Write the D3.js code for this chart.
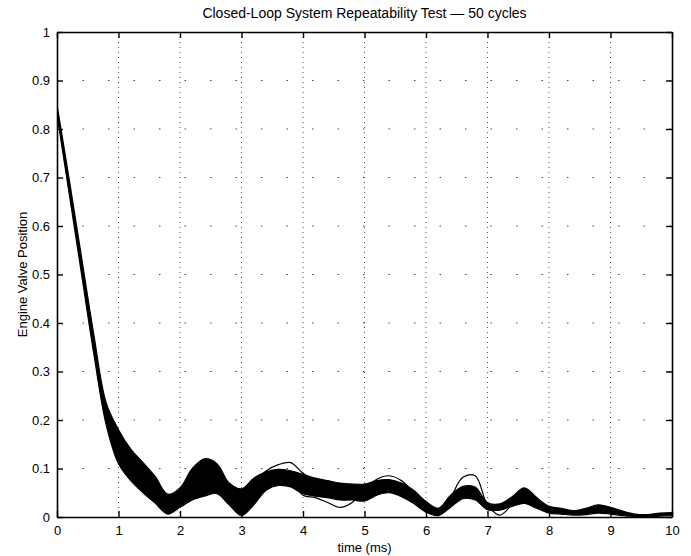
<!DOCTYPE html>
<html>
<head>
<meta charset="utf-8">
<script src="https://cdn.jsdelivr.net/npm/d3@7"></script>
<style>
  body { margin: 0; background: #fff; }
  text { font-family: "Liberation Sans", Arial, sans-serif; fill: #000; }
</style>
</head>
<body>
<div id="viz"></div>
<script>
// sample times (ms), every 0.2 ms
var timeMs = [0, 0.2, 0.4, 0.6, 0.8, 1.0, 1.2, 1.4, 1.6, 1.8,
    2.0, 2.2, 2.4, 2.6, 2.8, 3.0, 3.2, 3.4, 3.6, 3.8,
    4.0, 4.2, 4.4, 4.6, 4.8, 5.0, 5.2, 5.4, 5.6, 5.8,
    6.0, 6.2, 6.4, 6.6, 6.8, 7.0, 7.2, 7.4, 7.6, 7.8,
    8.0, 8.2, 8.4, 8.6, 8.8, 9.0, 9.2, 9.4, 9.6, 9.8, 10.0];

// top edge of the bundle of 50 cycles
var upperEnv = [0.85, 0.695, 0.535, 0.375, 0.235, 0.18, 0.14, 0.112, 0.083, 0.047,
    0.06, 0.10, 0.12, 0.11, 0.07, 0.058, 0.08, 0.093, 0.098, 0.095,
    0.088, 0.08, 0.075, 0.07, 0.068, 0.068, 0.075, 0.077, 0.07, 0.055,
    0.032, 0.018, 0.045, 0.063, 0.062, 0.03, 0.027, 0.042, 0.06, 0.04,
    0.022, 0.018, 0.013, 0.018, 0.025, 0.02, 0.012, 0.006, 0.005, 0.008, 0.009];

// bottom edge of the bundle
var lowerEnv = [0.83, 0.665, 0.5, 0.335, 0.19, 0.11, 0.075, 0.05, 0.028, 0.006,
    0.02, 0.035, 0.043, 0.048, 0.025, 0.003, 0.025, 0.055, 0.065, 0.062,
    0.048, 0.043, 0.04, 0.035, 0.035, 0.033, 0.045, 0.05, 0.042, 0.028,
    0.01, 0.003, 0.02, 0.038, 0.035, 0.015, 0.014, 0.022, 0.028, 0.018,
    0.008, 0.006, 0.004, 0.005, 0.008, 0.006, 0.003, 0.001, 0.0, 0.002, 0.003];

// cycles that stray outside the bundle
var cycleDip = [0.84, 0.68, 0.515, 0.355, 0.21, 0.14, 0.105, 0.08, 0.055, 0.03,
    0.04, 0.07, 0.085, 0.08, 0.045, 0.03, 0.055, 0.08, 0.085, 0.075,
    0.045, 0.04, 0.03, 0.02, 0.03, 0.058, 0.078, 0.085, 0.075, 0.05,
    0.02, 0.004, 0.04, 0.082, 0.085, 0.025, 0.004, 0.025, 0.045, 0.03,
    0.015, 0.012, 0.008, 0.012, 0.018, 0.014, 0.007, 0.003, 0.002, 0.005, 0.006];

var cycleHigh = [0.84, 0.68, 0.515, 0.355, 0.215, 0.15, 0.11, 0.085, 0.06, 0.03,
    0.045, 0.08, 0.1, 0.09, 0.055, 0.04, 0.07, 0.095, 0.108, 0.112,
    0.09, 0.075, 0.065, 0.06, 0.06, 0.06, 0.065, 0.065, 0.06, 0.045,
    0.022, 0.01, 0.032, 0.05, 0.05, 0.022, 0.02, 0.032, 0.045, 0.03,
    0.015, 0.012, 0.008, 0.012, 0.017, 0.013, 0.007, 0.003, 0.002, 0.005, 0.006];

var xTicks = [0, 1, 2, 3, 4, 5, 6, 7, 8, 9, 10];
var yTicks = [0, 0.1, 0.2, 0.3, 0.4, 0.5, 0.6, 0.7, 0.8, 0.9, 1];

var titleText = "Closed-Loop System Repeatability Test \u2014 50 cycles";
var xLabel = "time (ms)";
var yLabel = "Engine Valve Position";

// dimensions (plotX0.. names, "top" is taken by window.top)
var width = 691;
var height = 556;
var plotX0 = 57, plotX1 = 672, plotY0 = 32, plotY1 = 517;
var tickLen = 6;

var svg = d3.select("#viz")
    .append("svg")
    .attr("width", width)
    .attr("height", height);

var xscale = d3.scaleLinear().domain([0, 10]).range([plotX0, plotX1]);
var yscale = d3.scaleLinear().domain([0, 1]).range([plotY1, plotY0]);

svg.append("defs").append("clipPath")
    .attr("id", "plotclip")
    .append("rect")
    .attr("x", plotX0).attr("y", plotY0)
    .attr("width", plotX1 - plotX0).attr("height", plotY1 - plotY0);

// dotted grid, vertical lines are clearer than the horizontal ones in the scan
svg.append("g")
    .selectAll("line")
    .data(xTicks.slice(1, -1))
    .enter()
    .append("line")
    .attr("x1", function(d) { return xscale(d); })
    .attr("x2", function(d) { return xscale(d); })
    .attr("y1", plotY0)
    .attr("y2", plotY1)
    .attr("stroke", "#555")
    .attr("stroke-width", 1)
    .attr("stroke-dasharray", "1,4");

svg.append("g")
    .selectAll("line")
    .data(yTicks.slice(1, -1))
    .enter()
    .append("line")
    .attr("x1", plotX0)
    .attr("x2", plotX1)
    .attr("y1", function(d) { return yscale(d); })
    .attr("y2", function(d) { return yscale(d); })
    .attr("stroke", "#444")
    .attr("stroke-width", 1.2)
    .attr("stroke-dasharray", "1.5,24");

var plot = svg.append("g").attr("clip-path", "url(#plotclip)");

var curve = d3.curveCatmullRom.alpha(0.5);

// the bundle itself
var band = d3.area()
    .x(function(d, i) { return xscale(timeMs[i]); })
    .y0(function(d, i) { return yscale(lowerEnv[i]); })
    .y1(function(d, i) { return yscale(upperEnv[i]); })
    .curve(curve);

plot.append("path")
    .datum(timeMs)
    .attr("d", band)
    .attr("fill", "#000")
    .attr("stroke", "#000")
    .attr("stroke-width", 1.2);

var line = d3.line()
    .x(function(d, i) { return xscale(timeMs[i]); })
    .y(function(d) { return yscale(d); })
    .curve(curve);

[cycleDip, cycleHigh].forEach(function(series) {
    plot.append("path")
        .datum(series)
        .attr("d", line)
        .attr("fill", "none")
        .attr("stroke", "#000")
        .attr("stroke-width", 1.2);
});

// axes box with inward ticks on all four sides
var xb = svg.append("g")
    .attr("transform", "translate(0," + plotY1 + ")")
    .call(d3.axisBottom(xscale).tickValues(xTicks).tickSizeInner(-tickLen).tickSizeOuter(0).tickPadding(9).tickFormat(d3.format("d")));
var xt = svg.append("g")
    .attr("transform", "translate(0," + plotY0 + ")")
    .call(d3.axisTop(xscale).tickValues(xTicks).tickSizeInner(-tickLen).tickSizeOuter(0).tickFormat(""));
var yl = svg.append("g")
    .attr("transform", "translate(" + plotX0 + ",0)")
    .call(d3.axisLeft(yscale).tickValues(yTicks).tickSizeInner(-tickLen).tickSizeOuter(0).tickPadding(7)
        .tickFormat(function(d) { return d === 0 || d === 1 ? d3.format("d")(d) : d3.format(".1f")(d); }));
var yr = svg.append("g")
    .attr("transform", "translate(" + plotX1 + ",0)")
    .call(d3.axisRight(yscale).tickValues(yTicks).tickSizeInner(-tickLen).tickSizeOuter(0).tickFormat(""));

[xb, xt, yl, yr].forEach(function(g) {
    g.select(".domain").attr("stroke", "#000").attr("stroke-width", 1.6);
    g.selectAll(".tick line").attr("stroke", "#000").attr("stroke-width", 1.4);
    g.selectAll(".tick text")
        .attr("font-family", "Liberation Sans, Arial, sans-serif")
        .attr("font-size", 13)
        .attr("fill", "#000");
});

// labels
svg.append("text")
    .attr("x", (plotX0 + plotX1) / 2)
    .attr("y", 18)
    .attr("text-anchor", "middle")
    .attr("font-size", 14)
    .text(titleText);

svg.append("text")
    .attr("x", (plotX0 + plotX1) / 2)
    .attr("y", 552)
    .attr("text-anchor", "middle")
    .attr("font-size", 13)
    .text(xLabel);

svg.append("text")
    .attr("transform", "translate(27," + ((plotY0 + plotY1) / 2) + ") rotate(-90)")
    .attr("text-anchor", "middle")
    .attr("font-size", 13)
    .text(yLabel);
</script>
</body>
</html>
